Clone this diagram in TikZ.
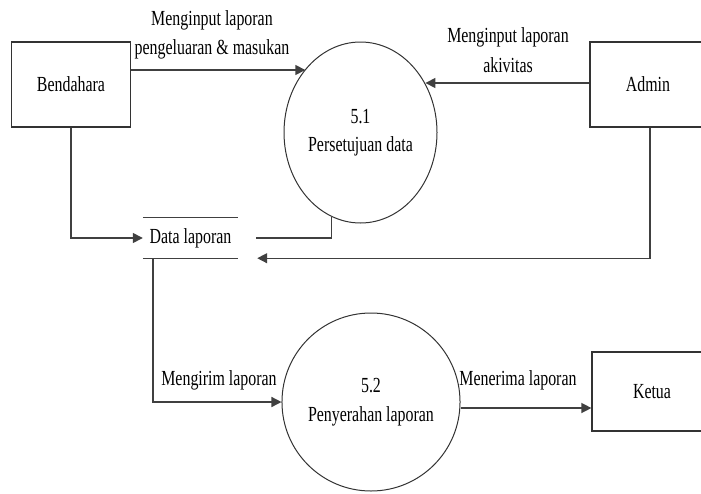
\documentclass[tikz,border=0pt]{standalone}
\usepackage{fontspec}
\setmainfont{Liberation Serif}[FakeStretch=0.74]
\usetikzlibrary{shapes.geometric,arrows.meta}
\begin{document}
\begin{tikzpicture}[x=1pt,y=-1pt,
  lbl/.style={font=\fontsize{21.5}{29.5}\selectfont,align=center,inner sep=0pt},
  ent/.style={draw=black!80,line width=1.2pt,rectangle,inner sep=0pt,font=\fontsize{21.5}{29.5}\selectfont},
  proc/.style={draw=black!80,line width=1pt,ellipse,inner sep=0pt,align=center,font=\fontsize{21.5}{28.5}\selectfont},
  flow/.style={draw=black!75,line width=1.4pt},
  arr/.style={flow,-{Triangle[length=10pt,width=10pt]}}]
\useasboundingbox (0,0) rectangle (701,493);
\clip (0,0) rectangle (701,493);
% entities
\node[ent,minimum width=119pt,minimum height=85pt] (bend) at (71,84.5) {Bendahara};
\node[ent,minimum width=116pt,minimum height=85pt] (admin) at (648,84.5) {Admin};
\node[ent,minimum width=120pt,minimum height=79pt] (ketua) at (652,391.5) {Ketua};
% processes
\node[proc,minimum width=153pt,minimum height=181pt] (p51) at (360.5,132.5) {5.1\\Persetujuan data};
\node[proc,minimum width=152pt,minimum height=178pt] (p52) at (371,402) {5.2\\Penyerahan laporan};
% data store
\node[lbl,minimum width=95pt,minimum height=40pt] (store) at (190.5,238) {Data laporan};
\draw[flow,line width=1.2pt] (store.north west) -- (store.north east);
\draw[flow,line width=1.2pt] (store.south west) -- (store.south east);
% flows
\draw[arr] ([yshift=14.5pt]bend.east) -- ([yshift=14.5pt]bend.east -| p51.131.6);
\draw[arr] ([yshift=1.5pt]admin.west) -- ([yshift=1.5pt]admin.west -| p51.37.7);
\draw[arr] (bend.south) |- (store.west);
\draw[flow] (p51.251.3) |- ([xshift=18pt]store.east);
\draw[arr] ([xshift=2pt]admin.south) |- ([xshift=19pt]store.south east);
\draw[arr] ([xshift=10pt]store.south west) |- (p52.west);
\draw[arr] ([yshift=-6pt]p52.east) -- ([yshift=-6pt]p52.east -| ketua.west);
% labels
\node[lbl] (l1) at (212,35) {Menginput laporan\\pengeluaran \& masukan};
\node[lbl] (l2) at (508,50) {Menginput laporan\\akivitas};
\node[lbl] (l3) at (219,380) {Mengirim laporan};
\node[lbl] (l4) at (518,380) {Menerima laporan};
\end{tikzpicture}
\end{document}
